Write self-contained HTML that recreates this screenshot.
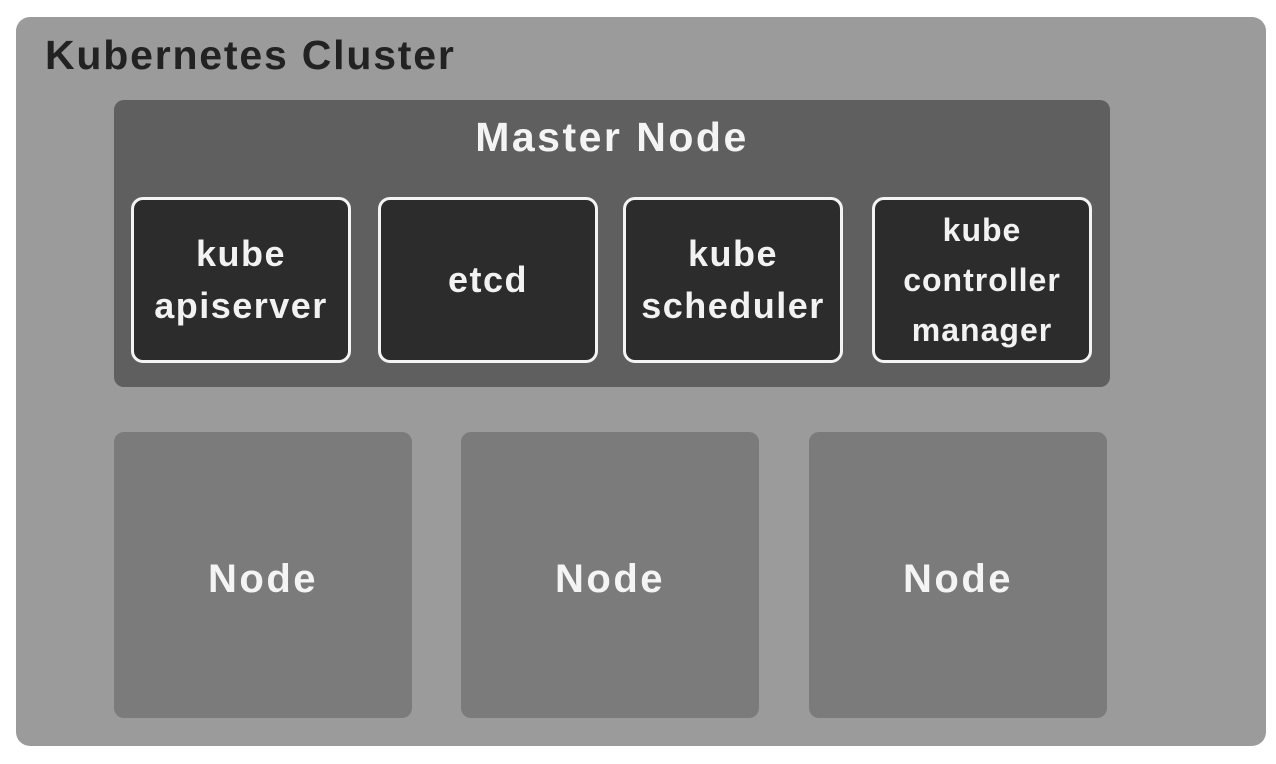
<!DOCTYPE html>
<html><head><style>
body{margin:0;width:1276px;height:764px;background:#fff;position:relative;overflow:hidden;font-family:"Liberation Sans",sans-serif;font-weight:bold}
div{position:absolute;box-sizing:border-box}
.c{display:flex;align-items:center;justify-content:center;text-align:center}
.k{top:197px;height:166px;width:220px;background:#2c2c2c;border:3px solid #f4f4f4;border-radius:12px;color:#f2f2f2;font-size:36px;line-height:52px;letter-spacing:1.5px}
.n{top:432px;height:286px;width:298px;background:#7b7b7b;border-radius:10px;color:#f4f4f4;font-size:40px;letter-spacing:2.5px;padding-top:8px}
</style></head><body>
<div style="left:16px;top:17px;width:1250px;height:729px;background:#9b9b9b;border-radius:14px"></div>
<div style="left:45px;top:32px;font-size:41px;color:#222;letter-spacing:1.8px">Kubernetes Cluster</div>
<div style="left:114px;top:100px;width:996px;height:287px;background:#5f5f5f;border-radius:10px"></div>
<div style="left:114px;top:114px;width:996px;text-align:center;font-size:41px;color:#f4f4f4;letter-spacing:2.5px">Master Node</div>
<div class="k c" style="left:131px">kube<br>apiserver</div>
<div class="k c" style="left:378px">etcd</div>
<div class="k c" style="left:623px">kube<br>scheduler</div>
<div class="k c" style="left:872px;line-height:50px;font-size:32px;letter-spacing:1px">kube<br>controller<br>manager</div>
<div class="n c" style="left:114px">Node</div>
<div class="n c" style="left:461px">Node</div>
<div class="n c" style="left:809px">Node</div>
</body></html>
